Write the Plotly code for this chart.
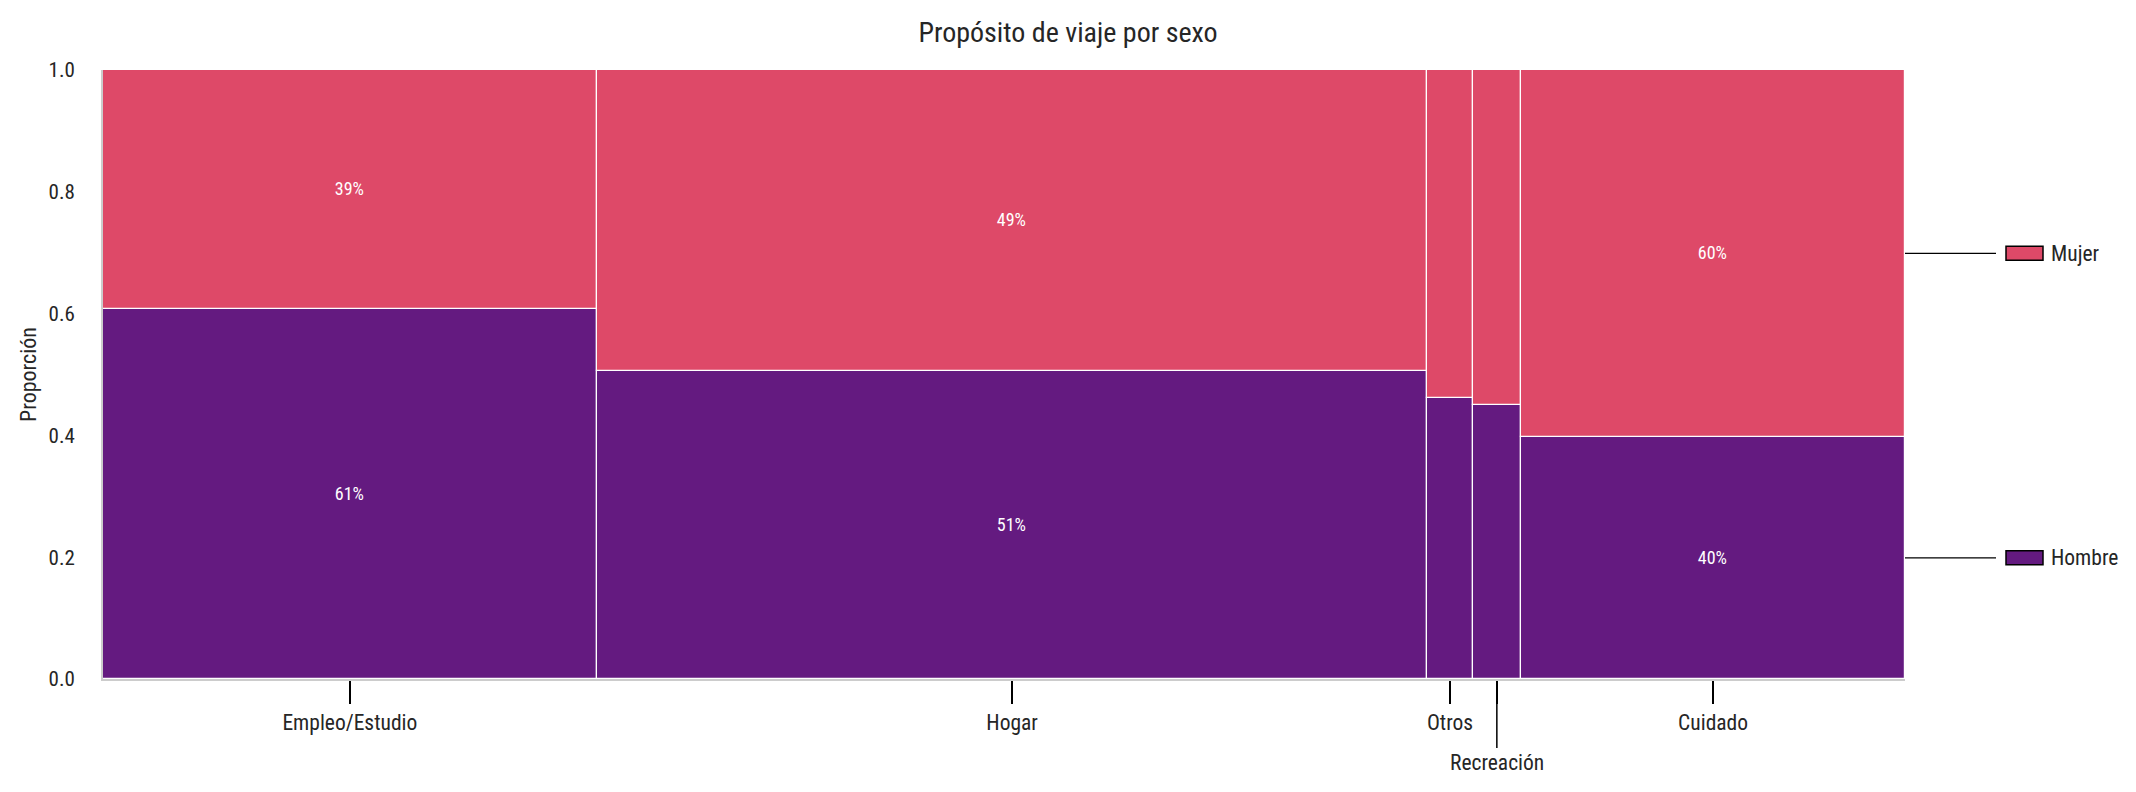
import numpy as np
import plotly.graph_objects as go

# ------------------------
# Data (mosaic: column width = share of trips, split by sex)
# ------------------------
categories   = ["Empleo/Estudio", "Hogar", "Otros", "Recreación", "Cuidado"]
trip_share   = [0.274, 0.461, 0.025, 0.027, 0.213]
hombre_share = [0.608, 0.506, 0.462, 0.450, 0.398]
mujer_share  = [0.392, 0.494, 0.538, 0.550, 0.602]
y_ticks      = [0.0, 0.2, 0.4, 0.6, 0.8, 1.0]

# ------------------------
# Style
# ------------------------
FONT = "Roboto Condensed, Liberation Sans Narrow, DejaVu Sans Condensed, Roboto, sans-serif"
TEXT = "#262626"
C_HOMBRE = "#641A80"
C_MUJER = "#DE4968"
MIN_LABEL_WIDTH = 0.05  # columns narrower than this get no % label
STAGGER = "Recreación"  # tick label pushed down to avoid overlap
W, H = 2136, 792
PAGE_PAD = 8            # browser body margin

widths = np.array(trip_share)
left = np.concatenate([[0], np.cumsum(widths)[:-1]])
centers = left + widths / 2
hombre = np.array(hombre_share)
mujer = np.array(mujer_share)


def pct_labels(values):
    return [f"{v:.0%}" if w >= MIN_LABEL_WIDTH else "" for v, w in zip(values, widths)]


fig = go.Figure()

for name, vals, base, col in [("Hombre", hombre, 0, C_HOMBRE),
                              ("Mujer", mujer, hombre, C_MUJER)]:
    fig.add_trace(go.Bar(
        x=centers, y=vals, width=widths, base=base,
        name=name,
        marker=dict(color=col, line=dict(color="white", width=1.2)),
        text=pct_labels(vals), textposition="inside", insidetextanchor="middle",
        textangle=0, textfont=dict(color="white", size=18, family=FONT),
        hoverinfo="skip",
    ))

# x tick labels: staggered one drawn as an annotation with a long tick
ticktext = ["" if c == STAGGER else c for c in categories]
annotations = []
shapes = []
for c, xc in zip(categories, centers):
    if c == STAGGER:
        annotations.append(dict(
            x=xc, y=0, xref="x", yref="paper", text=c,
            showarrow=True, arrowhead=0, arrowwidth=1.5, arrowcolor="black",
            ax=0, ay=83, standoff=2,
            font=dict(size=21.5, color=TEXT, family=FONT),
        ))

# legend on the right, linked to the last column
last_h = hombre[-1] / 2
last_m = hombre[-1] + mujer[-1] / 2
for name, yc, col in [("Mujer", last_m, C_MUJER), ("Hombre", last_h, C_HOMBRE)]:
    shapes.append(dict(
        type="line", xref="paper", yref="y", xsizemode="pixel", xanchor=1,
        x0=0, x1=91, y0=yc, y1=yc, line=dict(color="black", width=1.3),
    ))
    shapes.append(dict(
        type="rect", xref="paper", yref="y", xsizemode="pixel", xanchor=1,
        ysizemode="pixel", yanchor=yc, x0=101, x1=138, y0=-7, y1=7,
        fillcolor=col, line=dict(color="black", width=1.5),
    ))
    annotations.append(dict(
        x=1, y=yc, xref="paper", yref="y", text=name, showarrow=False,
        xanchor="left", yanchor="middle", xshift=144,
        font=dict(size=21.5, color=TEXT, family=FONT),
    ))

fig.update_layout(
    width=W, height=H,
    paper_bgcolor="white", plot_bgcolor="white",
    font=dict(family=FONT, color=TEXT, size=21),
    barmode="overlay", bargap=0, showlegend=False,
    title=dict(
        text="Propósito de viaje por sexo",
        x=(W / 2 - PAGE_PAD) / W, xref="container", xanchor="center",
        y=1 - (32 - PAGE_PAD) / H, yref="container", yanchor="middle",
        font=dict(size=28, color=TEXT, family=FONT),
    ),
    xaxis=dict(
        range=[0, 1], tickvals=centers, ticktext=ticktext,
        ticks="outside", ticklen=23, tickwidth=1.5, tickcolor="black",
        showline=True, linecolor="#cccccc", linewidth=2,
        showgrid=False, zeroline=False,
        tickfont=dict(size=21.5, color=TEXT, family=FONT),
    ),
    yaxis=dict(
        range=[0, 1], tickvals=y_ticks, tickformat=".1f",
        ticks="", ticklabelstandoff=22,
        showline=True, linecolor="#cccccc", linewidth=2,
        showgrid=False, zeroline=False,
        title=dict(text="Proporción", standoff=6,
                   font=dict(size=22, color=TEXT, family=FONT)),
        tickfont=dict(size=21, color=TEXT, family=FONT),
    ),
    annotations=annotations,
    shapes=shapes,
    margin=dict(l=103 - PAGE_PAD, r=W - 1905 + PAGE_PAD,
                t=70 - PAGE_PAD, b=H - 679 + PAGE_PAD, autoexpand=False),
)

fig.write_html("out.html")
